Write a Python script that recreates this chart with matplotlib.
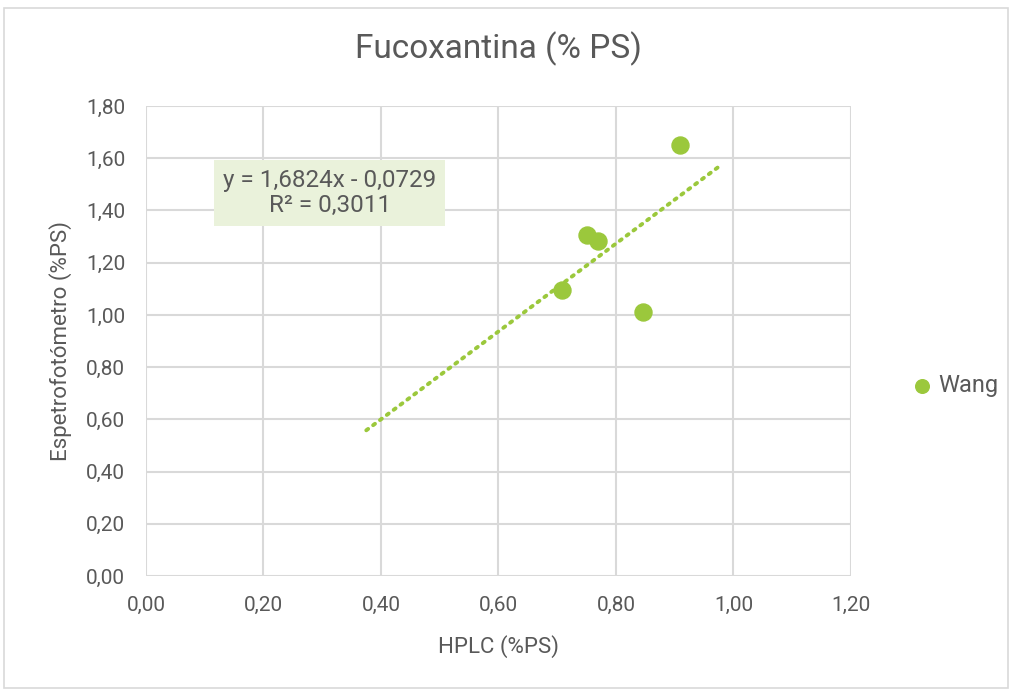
import matplotlib.pyplot as plt
from matplotlib.patches import Rectangle
from matplotlib.ticker import MultipleLocator, FuncFormatter
import numpy as np

# HPLC vs spectrophotometer fucoxanthin readings (% dry weight)
hplc = [0.708, 0.751, 0.769, 0.846, 0.909]
espetro = [1.095, 1.306, 1.283, 1.011, 1.651]
series_name = "Wang"

# linear trendline as reported
slope = 1.6824
intercept = -0.0729
r2 = 0.3011
trend_x = [0.375, 0.98]

green = "#9BC83C"
text_col = "#595959"
grid_col = "#D9D9D9"

plt.rcParams["font.family"] = ["Roboto", "DejaVu Sans"]

fig = plt.figure(figsize=(10.13, 6.91), dpi=100)
fig.patches.append(Rectangle((0.004, 0.004), 0.991, 0.985, transform=fig.transFigure,
                             fill=False, edgecolor="#D9D9D9", linewidth=1.2))
ax = fig.add_axes([0.1441, 0.1664, 0.6959, 0.6802])

tx = np.array(trend_x)
ax.plot(tx, slope * tx + intercept, color=green, linestyle=(0, (0.6, 1.6)),
        linewidth=2.8, dash_capstyle="round", zorder=2)
ax.scatter(hplc, espetro, s=150, color=green, zorder=3, label=series_name)

ax.set_xlim(0, 1.2)
ax.set_ylim(0, 1.8)
ax.xaxis.set_major_locator(MultipleLocator(0.2))
ax.yaxis.set_major_locator(MultipleLocator(0.2))
fmt = FuncFormatter(lambda v, p: f"{v:.2f}".replace(".", ","))
ax.xaxis.set_major_formatter(fmt)
ax.yaxis.set_major_formatter(fmt)
ax.grid(True, color=grid_col, linewidth=1.5)
ax.set_axisbelow(True)
for s in ax.spines.values():
    s.set_visible(False)
ax.tick_params(length=0, labelsize=15, colors=text_col)
ax.tick_params(axis="y", pad=15)
ax.tick_params(axis="x", pad=14)

ax.set_title("Fucoxantina (% PS)", fontsize=24, color=text_col, pad=34)
ax.set_xlabel("HPLC (%PS)", fontsize=16, color=text_col, labelpad=15)
ax.set_ylabel("Espetrofotómetro (%PS)", fontsize=16, color=text_col, labelpad=10)

ax.text(0.313, 1.467, f"y = {slope:.4f}x - {abs(intercept):.4f}".replace(".", ",")
        + "\n" + f"R² = {r2:.4f}".replace(".", ","),
        ha="center", va="center", fontsize=17.5, color=text_col, linespacing=1.1,
        bbox=dict(boxstyle="square,pad=0.36", facecolor="#EAF2DB", edgecolor="none"))

ax.legend(loc="center left", bbox_to_anchor=(1.054, 0.405), frameon=False, fontsize=17,
          labelcolor=text_col, handlelength=1.0, handletextpad=0.2, markerscale=0.8)

fig.savefig("out.png", dpi=100)
